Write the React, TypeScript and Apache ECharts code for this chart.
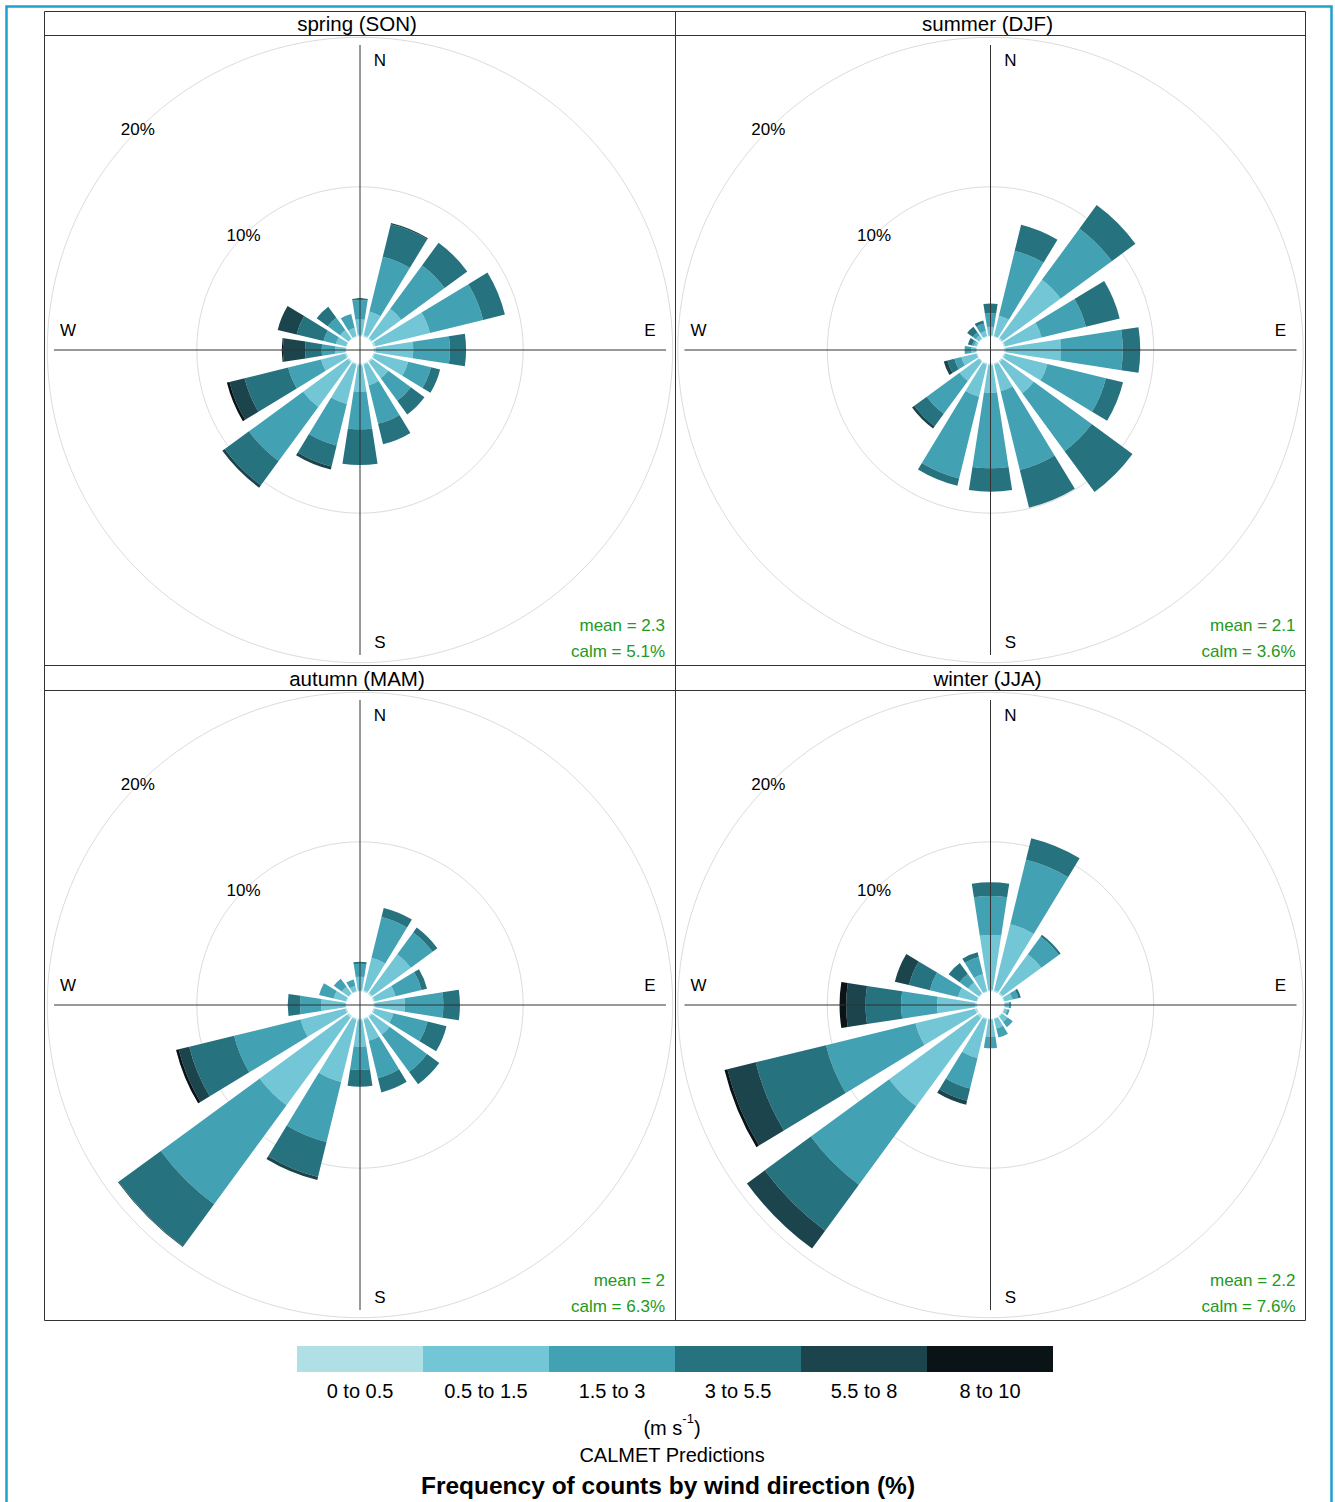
import React, { useEffect, useRef } from "react";
import * as echarts from "echarts";

// ---------- data ----------
const directions = ["N", "NNE", "NE", "ENE", "E", "ESE", "SE", "SSE", "S", "SSW", "SW", "WSW", "W", "WNW", "NW", "NNW"];
const speedBins = ["0 to 0.5", "0.5 to 1.5", "1.5 to 3", "3 to 5.5", "5.5 to 8", "8 to 10"];
const binColors = ["#b0dfe6", "#73c6d6", "#42a1b3", "#26737f", "#1b444c", "#0a1315"];
const panelTitles = ["spring (SON)", "summer (DJF)", "autumn (MAM)", "winter (JJA)"];
const panelMeans = ["2.3", "2.1", "2", "2.2"];
const panelCalms = ["5.1", "3.6", "6.3", "7.6"];
const radiusLabels = [10, 20];
const compassLabels = ["N", "E", "S", "W"];

// frequency (%) per speed bin (rows) and direction (columns)
const springFreq = [
  [0.1, 0.1, 0.1, 0.15, 0.15, 0.1, 0.1, 0.1, 0.1, 0.1, 0.1, 0.1, 0.05, 0.05, 0.05, 0.05],
  [1.03, 1.63, 2.4, 3.75, 2.5, 2.3, 1.33, 1.4, 1.77, 2.7, 3.7, 1.67, 0.71, 0.69, 0.69, 0.55],
  [1.3, 3.77, 3.6, 3.66, 2.45, 1.57, 1.87, 2.67, 2.52, 2.86, 4.49, 2.26, 0.89, 0.86, 1.02, 0.96],
  [0.11, 2.25, 1.88, 1.5, 1.08, 0.63, 1.13, 1.41, 2.39, 1.44, 2.01, 3.0, 1.11, 1.85, 0.92, 0],
  [0, 0.08, 0, 0, 0, 0, 0, 0, 0, 0.22, 0.2, 1.04, 1.49, 1.3, 0, 0],
  [0, 0, 0, 0, 0, 0, 0, 0, 0, 0, 0, 0.18, 0.07, 0, 0, 0],
];
const summerFreq = [
  [0.05, 0.05, 0.1, 0.1, 0.1, 0.1, 0.1, 0.1, 0.1, 0.1, 0.05, 0.05, 0.05, 0.05, 0.05, 0.05],
  [0.59, 1.4, 4.8, 2.5, 3.71, 2.9, 2.57, 1.82, 1.84, 2.2, 1.6, 1.04, 0.32, 0.15, 0.25, 0.35],
  [0.9, 4.46, 4.24, 3.05, 4.12, 4.03, 4.8, 5.42, 5.06, 5.63, 2.72, 0.48, 0.45, 0.15, 0.26, 0.5],
  [0.66, 1.8, 1.96, 2.33, 1.17, 1.18, 3.39, 2.61, 1.56, 0.5, 1.03, 0.48, 0, 0.29, 0.46, 0.22],
  [0, 0, 0, 0, 0, 0, 0, 0, 0, 0, 0.19, 0.25, 0, 0, 0, 0],
  [0, 0, 0, 0, 0, 0, 0, 0, 0, 0, 0, 0, 0, 0, 0, 0],
];
const autumnFreq = [
  [0.05, 0.1, 0.1, 0.1, 0.1, 0.1, 0.1, 0.1, 0.1, 0.1, 0.15, 0.1, 0.05, 0.05, 0.05, 0.05],
  [0.93, 2.23, 3.2, 1.43, 1.99, 1.28, 1.44, 1.45, 1.77, 4.29, 7.25, 3.08, 1.64, 0.85, 0.55, 0.35],
  [0.87, 2.82, 1.8, 1.79, 2.57, 2.36, 3.1, 2.57, 1.56, 4.13, 8.2, 4.57, 1.41, 1.0, 0.66, 0.44],
  [0.13, 0.62, 0.4, 0.38, 1.11, 1.3, 1.02, 0.98, 1.12, 2.4, 3.5, 3.09, 0.82, 0, 0, 0],
  [0, 0, 0, 0, 0, 0, 0, 0, 0, 0.22, 0.05, 0.73, 0, 0, 0, 0],
  [0, 0, 0, 0, 0, 0, 0, 0, 0, 0, 0, 0.18, 0, 0, 0, 0],
];
const winterFreq = [
  [0.1, 0.1, 0.1, 0.05, 0.05, 0.05, 0.05, 0.05, 0.05, 0.1, 0.15, 0.15, 0.1, 0.05, 0.05, 0.05],
  [3.67, 4.55, 3.2, 0.55, 0.25, 0.2, 0.45, 0.65, 1.15, 2.64, 7.33, 4.1, 2.55, 1.27, 0.89, 1.15],
  [2.6, 4.43, 1.45, 0.4, 0.17, 0.15, 0.43, 0.63, 0.78, 2.1, 6.5, 6.16, 2.41, 1.94, 0.71, 1.19],
  [0.92, 1.49, 0.15, 0.17, 0, 0, 0, 0, 0, 0.84, 3.82, 4.84, 2.38, 1.44, 0.91, 0.32],
  [0, 0, 0, 0, 0, 0, 0, 0, 0, 0.27, 1.48, 1.95, 1.3, 0.97, 0, 0],
  [0, 0, 0, 0, 0, 0, 0, 0, 0, 0, 0, 0.2, 0.44, 0, 0, 0],
];
const panelFreqs = [springFreq, summerFreq, autumnFreq, winterFreq];

// ---------- layout ----------
const W = 1335;
const H = 1502;
const FONT = "'Liberation Sans', Arial, sans-serif";
const panelCenters = [
  [360, 350],
  [990.5, 350],
  [360, 1005],
  [990.5, 1005],
];
const HOLE = 13.7;
const OUTER = 312.7;
const AXIS_MAX = 20;

function rOf(p: number) {
  return HOLE + (p / AXIS_MAX) * (OUTER - HOLE);
}

function buildOption() {
  const polar: any[] = [];
  const angleAxis: any[] = [];
  const radiusAxis: any[] = [];
  const series: any[] = [];
  const graphic: any[] = [];

  panelCenters.forEach(([cx, cy], p) => {
    polar.push({ center: [cx, cy], radius: [HOLE, OUTER] });
    angleAxis.push({
      polarIndex: p,
      type: "category",
      data: directions,
      startAngle: 90 + 360 / directions.length / 2,
      clockwise: true,
      boundaryGap: true,
      axisLine: { show: false },
      axisTick: { show: false },
      axisLabel: { show: false },
      splitLine: { show: false },
      splitArea: { show: false },
    });
    radiusAxis.push({
      polarIndex: p,
      type: "value",
      min: 0,
      max: AXIS_MAX,
      interval: 10,
      axisLine: { show: false },
      axisTick: { show: false },
      axisLabel: { show: false },
      splitLine: {
        show: true,
        lineStyle: { color: ["rgba(0,0,0,0)", "#dcdcdc", "#dcdcdc"], width: 1 },
      },
    });
    panelFreqs[p].forEach((vals, b) => {
      series.push({
        type: "bar",
        name: speedBins[b],
        coordinateSystem: "polar",
        polarIndex: p,
        stack: "panel" + p,
        data: vals,
        barCategoryGap: "22%",
        itemStyle: { color: binColors[b] },
        silent: true,
      });
    });

    // crosshair
    graphic.push({
      type: "line",
      z: 100,
      shape: { x1: cx, y1: cy - 305, x2: cx, y2: cy + 305 },
      style: { stroke: "#333", lineWidth: 1 },
    });
    graphic.push({
      type: "line",
      z: 100,
      shape: { x1: cx - 306, y1: cy, x2: cx + 306, y2: cy },
      style: { stroke: "#333", lineWidth: 1 },
    });
    // compass letters
    const offs = [
      [20, -290],
      [290, -20],
      [20, 292],
      [-292, -20],
    ];
    compassLabels.forEach((t, i) => {
      graphic.push({
        type: "text",
        z: 100,
        x: cx + offs[i][0],
        y: cy + offs[i][1],
        style: { text: t, fontSize: 17, fontFamily: FONT, fill: "#000", align: "center", verticalAlign: "middle" },
      });
    });
    // radius labels at 315°
    radiusLabels.forEach((v) => {
      const r = rOf(v);
      graphic.push({
        type: "text",
        z: 100,
        x: cx - r * Math.SQRT1_2 - 1,
        y: cy - r * Math.SQRT1_2 + 1,
        style: { text: v + "%", fontSize: 17, fontFamily: FONT, fill: "#000", align: "center", verticalAlign: "middle" },
      });
    });
    // mean / calm
    graphic.push({
      type: "text",
      z: 100,
      x: cx + 305,
      y: cy + 275,
      style: { text: "mean = " + panelMeans[p], fontSize: 17, fontFamily: FONT, fill: "#229922", align: "right", verticalAlign: "middle" },
    });
    graphic.push({
      type: "text",
      z: 100,
      x: cx + 305,
      y: cy + 301,
      style: { text: "calm = " + panelCalms[p] + "%", fontSize: 17, fontFamily: FONT, fill: "#229922", align: "right", verticalAlign: "middle" },
    });
    // strip title
    graphic.push({
      type: "text",
      z: 100,
      x: cx - 3,
      y: cy - 327,
      style: { text: panelTitles[p], fontSize: 20.5, fontFamily: FONT, fill: "#000", align: "center", verticalAlign: "middle" },
    });
  });

  // panel frames
  const frameStyle = { stroke: "#333", lineWidth: 1, fill: "none" };
  graphic.push({ type: "rect", z: 100, shape: { x: 44.5, y: 11.5, width: 1261, height: 1309 }, style: frameStyle });
  graphic.push({ type: "line", z: 100, shape: { x1: 675.5, y1: 11.5, x2: 675.5, y2: 1320.5 }, style: frameStyle });
  [35.5, 665.5, 690.5].forEach((y) => {
    graphic.push({ type: "line", z: 100, shape: { x1: 44.5, y1: y, x2: 1305.5, y2: y }, style: frameStyle });
  });

  // outer border
  graphic.push({
    type: "rect",
    z: 100,
    shape: { x: 6.5, y: 6.5, width: 1325, height: 1520 },
    style: { stroke: "#1ca3cc", lineWidth: 2.5, fill: "none" },
  });

  // legend colour bar
  const legX = 297;
  const legW = 126;
  speedBins.forEach((lab, i) => {
    graphic.push({
      type: "rect",
      shape: { x: legX + i * legW, y: 1346, width: legW, height: 26 },
      style: { fill: binColors[i] },
    });
    graphic.push({
      type: "text",
      x: legX + i * legW + legW / 2,
      y: 1391,
      style: { text: lab, fontSize: 20, fontFamily: FONT, fill: "#000", align: "center", verticalAlign: "middle" },
    });
  });
  graphic.push({
    type: "text",
    x: 672,
    y: 1425,
    style: {
      text: "{a|(m s}{b|-1}{a|)}",
      align: "center",
      verticalAlign: "middle",
      rich: {
        a: { fontSize: 20, fontFamily: FONT, fill: "#000", lineHeight: 26, verticalAlign: "bottom" },
        b: { fontSize: 13, fontFamily: FONT, fill: "#000", lineHeight: 14, verticalAlign: "top" },
      },
    },
  });
  graphic.push({
    type: "text",
    x: 672,
    y: 1455,
    style: { text: "CALMET Predictions", fontSize: 20, fontFamily: FONT, fill: "#000", align: "center", verticalAlign: "middle" },
  });
  graphic.push({
    type: "text",
    x: 668,
    y: 1485,
    style: {
      text: "Frequency of counts by wind direction (%)",
      fontSize: 24.5,
      fontWeight: "bold",
      fontFamily: FONT,
      fill: "#000",
      align: "center",
      verticalAlign: "middle",
    },
  });

  return {
    animation: false,
    backgroundColor: "#ffffff",
    polar,
    angleAxis,
    radiusAxis,
    series,
    graphic: { elements: graphic },
  };
}

export default function App() {
  const ref = useRef<HTMLDivElement>(null);
  useEffect(() => {
    if (!ref.current) return;
    const chart = echarts.init(ref.current, null, { renderer: "svg" });
    chart.setOption(buildOption() as any);
    return () => chart.dispose();
  }, []);
  return <div ref={ref} style={{ position: "absolute", left: 0, top: 0, width: W, height: H }} />;
}
